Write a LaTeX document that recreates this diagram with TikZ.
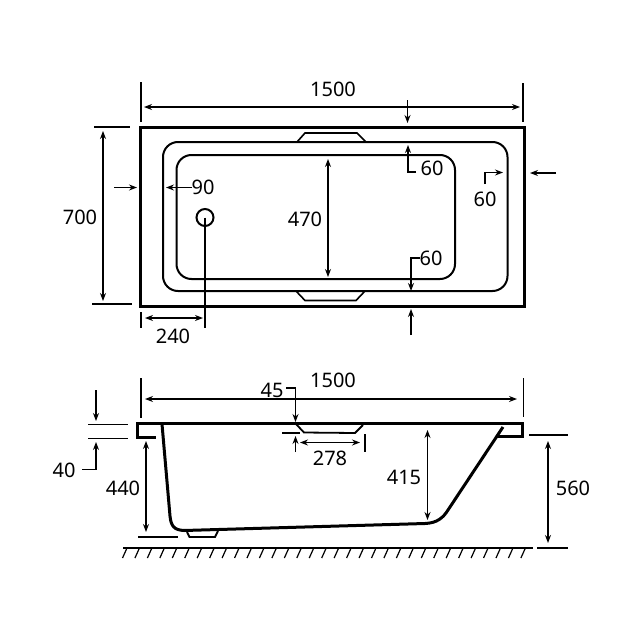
\documentclass[tikz,border=0pt]{standalone}
\usepackage{fontspec}
\setmainfont{Noto Sans}
\usetikzlibrary{arrows.meta}
\tikzset{
    dimline/.style={line width=1.2pt},
    dimarrow/.style={line width=1.2pt, -{Stealth[length=8pt,width=6pt]}},
    dimboth/.style={line width=1.2pt, {Stealth[length=8pt,width=6pt]}-{Stealth[length=8pt,width=6pt]}},
    dimlabel/.style={font=\fontsize{20}{20}\selectfont, inner sep=0pt},
    rimline/.style={line width=2pt},
}
\begin{document}
\begin{tikzpicture}[x=1pt,y=-1pt]
    \useasboundingbox (0,0) rectangle (640,640);
    %% Plan view
    \draw[line width=3pt] (140,127.5) rectangle (524,306);
    \draw[rimline, rounded corners=15pt] (163,142) rectangle (507.5,291);
    \draw[rimline, rounded corners=15pt] (176.5,155) rectangle (455,279);
    \draw[line width=1.6pt] (297,142) -- (305,133) -- (357,133) -- (366,142);
    \draw[line width=1.6pt] (296,291) -- (305,300.5) -- (356,300.5) -- (365,291);
    \draw[rimline] (205,217.5) circle (8.5);
    %% Plan dimensions
    \draw[dimline] (141,82) -- (141,122) (523,83) -- (523,122);
    \draw[dimboth] (144,107) -- (520,107);
    \node[dimlabel] (lengthtop) at (333,89) {1500};
    \draw[dimline] (94,127) -- (130,127) (92,304) -- (132,304);
    \draw[dimboth] (103,131) -- (103,301);
    \node[dimlabel] (widthtop) at (80,217) {700};
    \draw[dimboth] (328,159) -- (328,277);
    \node[dimlabel] (inner) at (305,219) {470};
    \draw[dimarrow] (114,187.5) -- (137,187.5);
    \draw[dimarrow] (192,187.5) -- (166,187.5);
    \node[dimlabel] (drain) at (203,187.5) {90};
    \draw[dimline] (205,217.5) -- (205,328) (141,312) -- (141,328);
    \draw[dimboth] (145,318) -- (203,318);
    \node[dimlabel] (drainpos) at (173,336) {240};
    %% Rim widths
    \draw[dimarrow] (407.5,100) -- (407.5,123);
    \draw[dimarrow] (416,172) -- (408,172) -- (408,145);
    \node[dimlabel] (rimtop) at (432,168) {60};
    \draw[dimarrow] (556,173) -- (530,173);
    \draw[dimarrow] (485,184) -- (485,172.5) -- (503,172.5);
    \node[dimlabel] (rimright) at (485,199) {60};
    \draw[dimarrow] (411,335) -- (411,309);
    \draw[dimarrow] (420,258) -- (411,258) -- (411,291);
    \node[dimlabel] (rimbottom) at (431,258) {60};
    %% Side view
    \draw[line width=3pt] (155.5,437) -- (137.5,437) -- (137.5,423.5) -- (522,423.5) -- (522,436) -- (497,436);
    \draw[line width=3pt] (162,424) -- (170,516) .. controls (171,526) and (174,530) .. (184,530.5)
        -- (425,523.5) .. controls (437,523) and (443,518) .. (448,510) -- (503,427);
    \draw[line width=1.8pt] (187,532) -- (189.5,537) -- (215,537) -- (218,531);
    \draw[line width=1.8pt] (296,424) -- (304,432.5) -- (355,433) -- (363,425);
    %% Side dimensions
    \draw[dimline] (141,378) -- (141,418) (523.5,378) -- (523.5,417);
    \draw[dimboth] (145,399) -- (517,399);
    \node[dimlabel] (lengthside) at (333,380) {1500};
    \draw[dimline] (88,424.5) -- (128,424.5) (88,438.5) -- (128,438.5);
    \draw[dimarrow] (96,390) -- (96,421);
    \draw[dimarrow] (82,469.5) -- (96,469.5) -- (96,442);
    \node[dimlabel] (flange) at (64,470) {40};
    \draw[dimline] (138,537) -- (178,537);
    \draw[dimboth] (146,441) -- (146,532);
    \node[dimlabel] (footheight) at (123,488) {440};
    \draw[dimarrow] (286,388) -- (295.5,388) -- (295.5,422);
    \node[dimlabel] (handleh) at (272,390) {45};
    \draw[dimline] (282,433) -- (300,433) (365,434) -- (365,452);
    \draw[dimarrow] (295.5,452) -- (295.5,436);
    \draw[dimboth] (300,442.5) -- (360,442.5);
    \node[dimlabel] (handlew) at (330,458) {278};
    \draw[dimboth] (427.5,430) -- (427.5,520);
    \node[dimlabel] (depth) at (404,477) {415};
    \draw[dimline] (529,435) -- (568,435) (537,548) -- (568,548);
    \draw[dimboth] (548,441) -- (548,543);
    \node[dimlabel] (height) at (573,488) {560};
    %% Floor
    \draw[dimline] (123,548) -- (533,548);
    \foreach \x in {0,...,32}
        \draw[dimline] ({127+12.45*\x},548) -- ({122.5+12.45*\x},558);
\end{tikzpicture}
\end{document}
